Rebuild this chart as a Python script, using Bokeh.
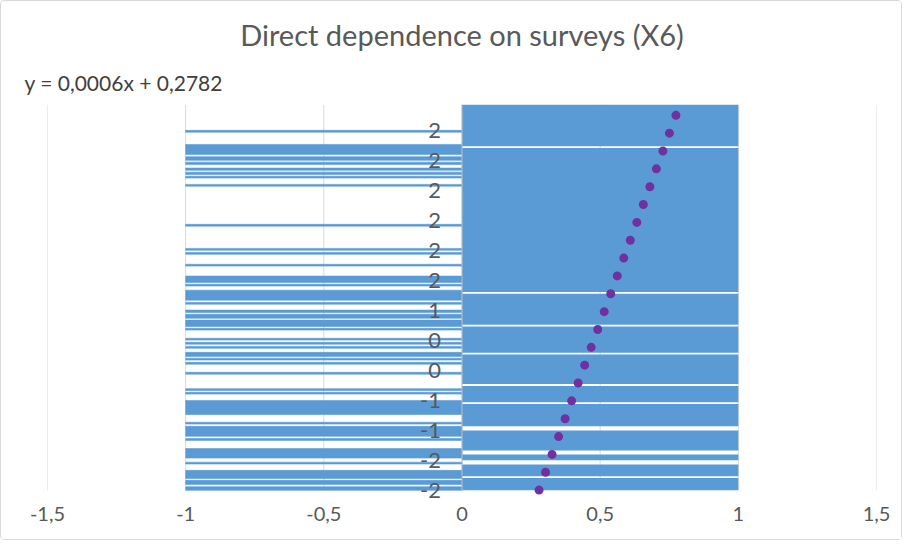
from bokeh.plotting import figure
from bokeh.models import Range1d, FixedTicker, Title, ColumnDataSource
from bokeh.core.properties import value
from bokeh.embed import file_html
from bokeh.resources import INLINE

TITLE = "Direct dependence on surveys (X6)"
EQUATION = "y = 0,0006x + 0,2782"
N_CATEGORIES = 850
TREND_SLOPE = 0.0006
TREND_INTERCEPT = 0.2782

# runs of categories (1 = bottom) whose bar value is -1
neg_first = [1, 14, 27, 59, 72, 111, 120, 147, 168, 213, 221, 257, 279, 288, 296, 314, 323, 332,
             354, 362, 380, 393, 411, 420, 451, 459, 495, 521, 530, 583, 671, 689, 697, 706,
             719, 728, 741, 790]
neg_last = [8, 22, 44, 62, 92, 114, 141, 150, 198, 216, 224, 260, 282, 291, 304, 317, 326, 335,
            357, 375, 388, 397, 414, 441, 454, 472, 498, 524, 533, 586, 674, 692, 701, 710,
            723, 735, 762, 793]

# runs of categories with no +1 bar
pos_gap_first = [28, 58, 80, 133, 191, 231, 300, 362, 434, 755]
pos_gap_last = [31, 66, 88, 141, 194, 234, 303, 365, 437, 758]

# category axis labels
label_categories = [1, 67, 133, 199, 265, 331, 397, 463, 529, 595, 661, 727, 793]
label_texts = ["-2", "-2", "-1", "-1", "0", "0", "1", "2", "2", "2", "2", "2", "2"]

# value axis
x_ticks = [-1.5, -1, -0.5, 0, 0.5, 1, 1.5]
x_tick_labels = ["-1,5", "-1", "-0,5", "0", "0,5", "1", "1,5"]

BLUE = "#5B9BD5"
PURPLE = "#7030A0"
TEXT = "#595959"
GRID = "#D9D9D9"
FONT = "Lato"
BOTTOM_PAD = 18  # empty room (in category units) below the first bar for the last label

p = figure(width=902, height=540, output_backend="svg", toolbar_location=None,
           x_range=Range1d(-1.5, 1.5), y_range=Range1d(0.5 - BOTTOM_PAD, N_CATEGORIES + 0.5),
           y_axis_location=None, min_border_left=46, min_border_right=27,
           min_border_top=103, min_border_bottom=43)
p.outline_line_color = None
p.background_fill_color = "white"
p.border_fill_color = "white"
p.styles = {"border": "1px solid #D9D9D9", "border-radius": "4px"}

p.title.text = TITLE
p.title.align = "center"
p.title.text_font = FONT
p.title.text_font_size = "29px"
p.title.text_font_style = "normal"
p.title.text_color = TEXT
p.title.standoff = 13
p.title.offset = -4

eq = Title(text=EQUATION, align="left", offset=-23, text_font=FONT, text_font_size="21px",
           text_font_style="normal", text_color="#404040", standoff=19)
p.add_layout(eq, "above")

p.xaxis.ticker = FixedTicker(ticks=x_ticks)
p.xaxis.major_label_overrides = dict(zip(x_ticks, x_tick_labels))
p.xaxis.axis_line_color = None
p.xaxis.major_tick_line_color = None
p.xaxis.minor_tick_line_color = None
p.xaxis.major_label_text_font = FONT
p.xaxis.major_label_text_font_size = "20px"
p.xaxis.major_label_text_color = TEXT
p.xaxis.major_label_standoff = 2
p.xgrid.grid_line_color = None
p.ygrid.grid_line_color = None

# vertical gridlines spanning the category band
p.segment(x0=x_ticks, y0=[0.5] * len(x_ticks), x1=x_ticks, y1=[N_CATEGORIES + 0.5] * len(x_ticks),
          line_color=GRID, line_width=1)

# negative bars
neg_src = ColumnDataSource(dict(
    y=[(a + b) / 2 for a, b in zip(neg_first, neg_last)],
    h=[b - a + 1 for a, b in zip(neg_first, neg_last)],
))
p.hbar(y="y", height="h", left=-1, right=0, source=neg_src, fill_color=BLUE,
       line_color=BLUE, line_width=0.6)

# positive bars (complement of gaps)
pos_first, pos_last = [], []
start = 1
for gf, gl in sorted(zip(pos_gap_first, pos_gap_last)):
    pos_first.append(start)
    pos_last.append(gf - 1)
    start = gl + 1
pos_first.append(start)
pos_last.append(N_CATEGORIES)
pos_src = ColumnDataSource(dict(
    y=[(a + b) / 2 for a, b in zip(pos_first, pos_last)],
    h=[b - a + 1 for a, b in zip(pos_first, pos_last)],
))
p.hbar(y="y", height="h", left=0, right=1, source=pos_src, fill_color=BLUE, line_color=None)

# category axis line
p.segment(x0=[0], y0=[0.5], x1=[0], y1=[N_CATEGORIES + 0.5], line_color="#BFBFBF", line_width=1)

# category labels
lab_src = ColumnDataSource(dict(x=[0] * len(label_categories), y=label_categories, t=label_texts))
p.text(x="x", y="y", text="t", source=lab_src, x_offset=-21, text_align="right",
       text_baseline="middle", text_font=value(FONT), text_font_size="22px", text_color=TEXT)

# linear trendline
cats = [1, N_CATEGORIES]
p.line(x=[TREND_SLOPE * c + TREND_INTERCEPT for c in cats], y=cats, line_color=PURPLE,
       line_width=9, line_dash="0 19", line_cap="round")

open("out.html", "w").write(file_html(p, INLINE))
